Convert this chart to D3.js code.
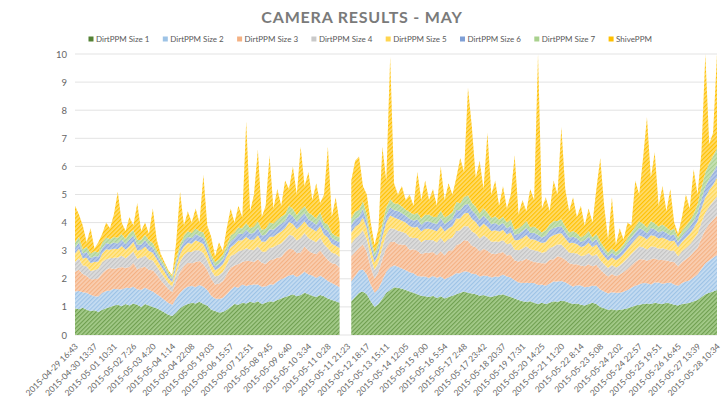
<!DOCTYPE html>
<html>
<head>
<meta charset="utf-8">
<script src="https://cdn.jsdelivr.net/npm/d3@7"></script>
<style>
  body { margin: 0; background: #fff; }
  svg { display: block; font-family: Lato, "Open Sans", sans-serif; }
</style>
</head>
<body>
<svg id="chart" width="724" height="401"></svg>
<script>
const seriesNames = ['DirtPPM Size 1', 'DirtPPM Size 2', 'DirtPPM Size 3', 'DirtPPM Size 4',
  'DirtPPM Size 5', 'DirtPPM Size 6', 'DirtPPM Size 7', 'ShivePPM']

const tickLabels = [
  '2015-04-29 16:43', '2015-04-30 13:37', '2015-05-01 10:31', '2015-05-02 7:26', '2015-05-03 4:20',
  '2015-05-04 1:14', '2015-05-04 22:08', '2015-05-05 19:03', '2015-05-06 15:57', '2015-05-07 12:51',
  '2015-05-08 9:45', '2015-05-09 6:40', '2015-05-10 3:34', '2015-05-11 0:28', '2015-05-11 21:23',
  '2015-05-12 18:17', '2015-05-13 15:11', '2015-05-14 12:05', '2015-05-15 9:00', '2015-05-16 5:54',
  '2015-05-17 2:48', '2015-05-17 23:42', '2015-05-18 20:37', '2015-05-19 17:31', '2015-05-20 14:25',
  '2015-05-21 11:20', '2015-05-22 8:14', '2015-05-23 5:08', '2015-05-24 2:02', '2015-05-24 22:57',
  '2015-05-25 19:51', '2015-05-26 16:45', '2015-05-27 13:39', '2015-05-28 10:34'
]
// one label every 5 samples
const LABEL_STEP = 5

const dirt1 = [
  .95,.92,.97,.9,.85,.88,.82,.9,.95,1.0,
  1.05,1.08,1.02,1.1,1.05,1.12,1.08,1.0,1.1,1.05,
  1.0,.95,.88,.8,.72,.68,.8,.95,1.05,1.1,
  1.15,1.12,1.18,1.1,1.05,.9,.85,.8,.82,.9,
  1.0,1.1,1.08,1.15,1.12,1.18,1.15,1.2,1.1,1.15,
  1.2,1.18,1.25,1.3,1.35,1.4,1.45,1.38,1.42,1.5,
  1.45,1.4,1.35,1.42,1.38,1.3,1.25,1.2,1.15,null,
  null,1.2,1.35,1.5,1.55,1.45,1.2,1.0,1.1,1.3,
  1.5,1.6,1.7,1.68,1.65,1.6,1.55,1.5,1.45,1.4,
  1.38,1.35,1.4,1.32,1.38,1.3,1.35,1.4,1.45,1.5,
  1.55,1.5,1.48,1.45,1.4,1.42,1.38,1.35,1.4,1.42,
  1.45,1.4,1.35,1.3,1.25,1.2,1.18,1.2,1.15,1.1,
  1.15,1.1,1.15,1.2,1.18,1.22,1.2,1.15,1.1,1.12,
  1.08,1.05,1.1,1.15,1.1,1.0,.95,.9,.92,.88,
  .9,.92,.95,1.0,1.05,1.08,1.1,1.12,1.1,1.15,
  1.12,1.1,1.15,1.12,1.08,1.05,1.1,1.12,1.15,1.2,
  1.25,1.35,1.45,1.5,1.55,1.6
]
const dirt2 = [
  .6,.65,.55,.6,.58,.5,.55,.6,.62,.58,
  .6,.55,.6,.58,.62,.6,.55,.6,.58,.56,
  .55,.5,.48,.45,.42,.4,.5,.55,.6,.62,
  .6,.58,.6,.62,.55,.5,.45,.48,.5,.55,
  .6,.62,.6,.65,.62,.6,.65,.6,.62,.58,
  .6,.62,.65,.68,.7,.72,.7,.68,.72,.75,
  .7,.72,.68,.7,.65,.62,.6,.58,.55,null,
  null,.7,.75,.8,.78,.7,.6,.5,.55,.65,
  .75,.8,.78,.75,.72,.7,.68,.7,.65,.68,
  .7,.68,.7,.72,.7,.68,.7,.72,.75,.7,
  .72,.75,.7,.72,.68,.7,.72,.7,.68,.65,
  .7,.68,.7,.65,.62,.65,.68,.65,.7,.68,
  .65,.65,.68,.7,.72,.7,.68,.65,.62,.65,
  .68,.65,.62,.6,.65,.62,.6,.58,.6,.62,
  .6,.62,.65,.68,.7,.72,.75,.72,.7,.72,
  .75,.72,.7,.75,.72,.7,.75,.78,.8,.85,
  .9,1.0,1.1,1.15,1.2,1.25
]
const dirt3 = [
  .7,.75,.65,.6,.55,.6,.65,.7,.75,.8,
  .7,.75,.8,.7,.75,.85,.7,.8,.75,.7,
  .75,.7,.6,.55,.5,.45,.6,.75,.8,.85,
  .8,.9,.85,.8,.7,.6,.5,.55,.6,.7,
  .8,.75,.85,.8,.9,.85,.8,.9,.85,.8,
  .85,.9,.85,.8,.9,.95,.9,.85,.8,.9,
  .85,.8,.85,.9,.8,.75,.7,.75,.7,null,
  null,.9,.85,.8,.9,.8,.6,.5,.6,.75,
  .85,.9,.85,.8,.85,.9,.8,.85,.9,.8,
  .85,.9,.85,.8,.9,.85,.95,.9,1.0,1.05,
  1.1,1.1,1.0,.95,.9,.95,.9,.85,.8,.85,
  .8,.75,.8,.7,.75,.8,.85,.8,.75,.8,
  .75,.8,.85,.8,.9,.85,.8,.75,.8,.75,
  .7,.75,.8,.7,.75,.7,.65,.6,.65,.6,
  .65,.7,.75,.8,.85,.9,.85,.8,.9,.85,
  .8,.85,.8,.75,.8,.7,.75,.8,.85,.9,
  .95,1.1,1.2,1.3,1.35,1.4
]
const dirt4 = [
  .35,.4,.3,.35,.3,.32,.35,.4,.38,.35,
  .4,.38,.4,.35,.42,.4,.38,.35,.4,.38,
  .35,.3,.28,.25,.2,.2,.28,.35,.4,.38,
  .4,.42,.38,.4,.35,.3,.28,.3,.32,.35,
  .4,.4,.45,.42,.45,.4,.42,.45,.4,.42,
  .45,.42,.45,.48,.45,.5,.48,.45,.5,.48,
  .45,.45,.42,.45,.4,.42,.38,.35,.38,null,
  null,.45,.48,.45,.5,.45,.38,.3,.35,.42,
  .48,.5,.45,.48,.45,.42,.45,.4,.45,.42,
  .45,.45,.42,.45,.48,.45,.42,.45,.5,.48,
  .5,.52,.5,.48,.45,.48,.45,.42,.45,.4,
  .42,.4,.42,.38,.4,.42,.45,.4,.42,.4,
  .38,.4,.42,.45,.42,.45,.4,.38,.4,.38,
  .35,.38,.4,.35,.38,.35,.32,.3,.32,.3,
  .32,.35,.38,.4,.42,.45,.42,.4,.45,.42,
  .4,.42,.4,.38,.4,.35,.38,.4,.42,.45,
  .5,.55,.6,.62,.65,.7
]
const dirt5 = [
  .3,.35,.25,.3,.28,.3,.25,.3,.35,.3,
  .32,.3,.35,.3,.32,.35,.3,.28,.32,.3,
  .28,.25,.22,.2,.18,.15,.22,.28,.3,.32,
  .3,.35,.3,.32,.28,.25,.22,.25,.28,.3,
  .32,.35,.38,.35,.4,.35,.38,.4,.35,.38,
  .4,.38,.4,.42,.4,.45,.42,.4,.45,.42,
  .4,.4,.38,.4,.35,.38,.32,.3,.32,null,
  null,.4,.42,.4,.45,.4,.32,.28,.3,.38,
  .42,.45,.4,.42,.4,.38,.4,.38,.4,.38,
  .4,.4,.38,.4,.42,.4,.38,.4,.45,.42,
  .45,.48,.45,.42,.4,.42,.4,.38,.4,.36,
  .38,.35,.38,.34,.36,.38,.4,.36,.38,.36,
  .34,.36,.38,.4,.38,.4,.36,.34,.36,.34,
  .32,.34,.36,.32,.34,.32,.28,.26,.28,.26,
  .28,.3,.34,.36,.38,.4,.38,.36,.4,.38,
  .36,.38,.36,.34,.36,.32,.34,.36,.38,.4,
  .45,.5,.55,.58,.6,.65
]
const dirt6 = [
  .2,.22,.18,.2,.18,.2,.17,.2,.22,.2,
  .22,.2,.22,.2,.24,.22,.2,.18,.22,.2,
  .18,.16,.15,.14,.12,.1,.15,.18,.2,.22,
  .2,.22,.2,.22,.18,.16,.15,.16,.18,.2,
  .22,.22,.25,.22,.26,.22,.24,.26,.22,.24,
  .26,.25,.26,.28,.26,.3,.28,.26,.3,.28,
  .26,.26,.24,.26,.22,.24,.2,.18,.2,null,
  null,.26,.28,.26,.3,.26,.2,.18,.2,.25,
  .28,.3,.26,.28,.26,.24,.26,.24,.26,.24,
  .26,.26,.24,.26,.28,.26,.24,.26,.3,.28,
  .3,.32,.3,.28,.26,.28,.26,.24,.26,.22,
  .24,.22,.24,.2,.22,.24,.26,.22,.24,.22,
  .2,.22,.24,.26,.24,.26,.22,.2,.22,.2,
  .18,.2,.22,.18,.2,.18,.16,.15,.16,.15,
  .16,.18,.2,.22,.24,.26,.24,.22,.26,.24,
  .22,.24,.22,.2,.22,.18,.2,.22,.24,.26,
  .3,.34,.38,.4,.42,.45
]
const dirt7 = [
  .18,.2,.15,.18,.16,.18,.15,.2,.2,.18,
  .2,.2,.2,.18,.22,.2,.18,.16,.2,.18,
  .16,.15,.14,.12,.1,.1,.14,.16,.18,.2,
  .18,.2,.18,.2,.16,.15,.14,.15,.16,.18,
  .2,.2,.22,.2,.24,.2,.22,.24,.2,.22,
  .24,.22,.24,.26,.24,.28,.26,.24,.28,.26,
  .24,.24,.22,.24,.2,.22,.18,.16,.18,null,
  null,.24,.26,.24,.28,.24,.18,.16,.18,.22,
  .26,.28,.24,.26,.24,.22,.24,.22,.24,.22,
  .24,.24,.22,.24,.26,.24,.22,.24,.28,.26,
  .28,.3,.28,.26,.24,.26,.24,.22,.24,.2,
  .22,.2,.22,.18,.2,.22,.24,.2,.22,.2,
  .18,.2,.22,.24,.22,.24,.2,.18,.2,.18,
  .16,.18,.2,.16,.18,.16,.15,.14,.15,.14,
  .15,.16,.18,.2,.22,.24,.22,.2,.24,.22,
  .2,.22,.2,.18,.2,.16,.18,.2,.22,.24,
  .3,.4,.5,.55,.6,.6
]
const shive = [
  1.32,.81,.85,.17,.9,.1,.36,.3,.53,.39,
  .81,1.64,.41,.29,.58,.16,1.31,.33,.43,.23,
  1.23,.39,.15,.09,.06,.05,.61,1.88,.37,.71,
  .37,.71,.31,2.04,.63,.64,.21,.61,.14,.62,
  .96,.36,.77,.41,3.61,.6,1.14,2.55,.46,.81,
  2.4,.53,1.1,.38,1.2,.6,1.51,.74,2.23,.71,
  1.45,.53,1.26,.33,1.0,2.77,.57,1.38,.52,null,
  null,1.35,1.81,1.9,.54,.7,.52,.28,.52,2.73,
  .96,5.07,.72,.33,.73,.34,.62,.31,1.45,.66,
  1.22,.52,.99,.41,1.58,.62,1.14,.63,.87,1.61,
  .9,3.83,2.69,1.04,1.87,.69,2.85,.84,1.27,.5,
  1.09,.5,.89,2.65,.5,.89,.34,1.37,.94,6.24,
  .85,1.17,.46,1.45,.94,3.28,1.34,.75,1.2,.58,
  1.13,.35,.8,.54,1.6,2.97,1.49,.47,1.82,.25,
  .74,.17,.55,.24,1.64,.95,2.34,3.93,1.55,2.52,
  .75,1.37,.57,1.48,.22,.14,.5,1.12,.44,1.6,
  .35,1.26,4.22,.7,.83,3.35
]

const yTicks = [0, 1, 2, 3, 4, 5, 6, 7, 8, 9, 10]

// fill = light base + darker diagonal hatch, legend = swatch colour
const seriesStyles = [
  { base: '#a6cc8c', line: '#6f9f50', legend: '#548235' },
  { base: '#c6ddf2', line: '#9dc3e6', legend: '#9dc3e6' },
  { base: '#f9cfb3', line: '#f4b183', legend: '#f4b183' },
  { base: '#dedede', line: '#c3c3c3', legend: '#c9c9c9' },
  { base: '#ffe799', line: '#ffd650', legend: '#ffd54f' },
  { base: '#b9cbea', line: '#8faadc', legend: '#7f9fd6' },
  { base: '#c8e2b7', line: '#a9d18e', legend: '#a9d18e' },
  { base: '#ffdc6e', line: '#ffc000', legend: '#ffc000' }
]

const allSeries = [dirt1, dirt2, dirt3, dirt4, dirt5, dirt6, dirt7, shive]
const n = dirt1.length

const svg = d3.select('#chart')
const x = d3.scaleLinear().domain([0, n - 1]).range([75, 717])
const y = d3.scaleLinear().domain([0, 10]).range([335, 54])

const defs = svg.append('defs')
seriesStyles.forEach((st, s) => {
  const p = defs.append('pattern')
    .attr('id', `hatch${s}`)
    .attr('patternUnits', 'userSpaceOnUse')
    .attr('width', 3)
    .attr('height', 3)
    .attr('patternTransform', 'rotate(45)')
  p.append('rect').attr('width', 3).attr('height', 3).attr('fill', st.base)
  p.append('rect').attr('width', 1.2).attr('height', 3).attr('fill', st.line)
})
defs.append('clipPath').attr('id', 'plotClip')
  .append('rect').attr('x', 75).attr('y', 53).attr('width', 643).attr('height', 283)

// title
svg.append('text')
  .attr('x', 362)
  .attr('y', 23)
  .attr('text-anchor', 'middle')
  .attr('font-size', 16)
  .attr('font-weight', 700)
  .attr('letter-spacing', 0.8)
  .attr('fill', '#7a7a7a')
  .text('CAMERA RESULTS - MAY')

// legend
const legend = svg.append('g').attr('font-size', 8).attr('fill', '#595959')
seriesNames.forEach((name, k) => {
  const lx = 91 + k * 74.3
  legend.append('rect')
    .attr('x', lx - 2.5).attr('y', 36.5).attr('width', 5).attr('height', 5)
    .attr('fill', seriesStyles[k].legend)
  legend.append('text')
    .attr('x', lx + 5).attr('y', 39).attr('dy', '0.35em')
    .text(name)
})

// gridlines
svg.append('g')
  .selectAll('line')
  .data(yTicks)
  .join('line')
  .attr('x1', 75).attr('x2', 717)
  .attr('y1', (d) => y(d)).attr('y2', (d) => y(d))
  .attr('stroke', '#e3e3e3')
  .attr('stroke-width', 1)

// stacked areas
const rows = d3.range(n).map((i) => {
  const r = { i }
  seriesNames.forEach((k, s) => { r[k] = allSeries[s][i] ?? 0 })
  return r
})
const stacked = d3.stack().keys(seriesNames)(rows)
const area = d3.area()
  .defined((d) => dirt1[d.data.i] != null)
  .x((d) => x(d.data.i))
  .y0((d) => y(d[0]))
  .y1((d) => y(d[1]))

svg.append('g')
  .attr('clip-path', 'url(#plotClip)')
  .selectAll('path')
  .data(stacked)
  .join('path')
  .attr('d', area)
  .attr('fill', (d, s) => `url(#hatch${s})`)

// y axis labels
const yAxis = svg.append('g')
  .attr('transform', 'translate(75,0)')
  .call(d3.axisLeft(y).tickValues(yTicks).tickSize(0).tickPadding(8))
yAxis.select('.domain').remove()
yAxis.selectAll('text')
  .attr('font-family', 'Lato, "Open Sans", sans-serif')
  .attr('font-size', 9.5)
  .attr('fill', '#666')

// x axis labels, rotated
const xAxis = svg.append('g')
  .attr('transform', 'translate(0,335)')
  .call(d3.axisBottom(x)
    .tickValues(d3.range(0, n, LABEL_STEP))
    .tickFormat((i) => tickLabels[i / LABEL_STEP])
    .tickSize(0))
xAxis.select('.domain').remove()
xAxis.selectAll('text')
  .attr('x', 0)
  .attr('y', 0)
  .attr('dy', '0.35em')
  .attr('transform', 'translate(1,10) rotate(-45)')
  .style('text-anchor', 'end')
  .attr('font-family', 'Lato, "Open Sans", sans-serif')
  .attr('font-size', 8.5)
  .attr('fill', '#666')
</script>
</body>
</html>
